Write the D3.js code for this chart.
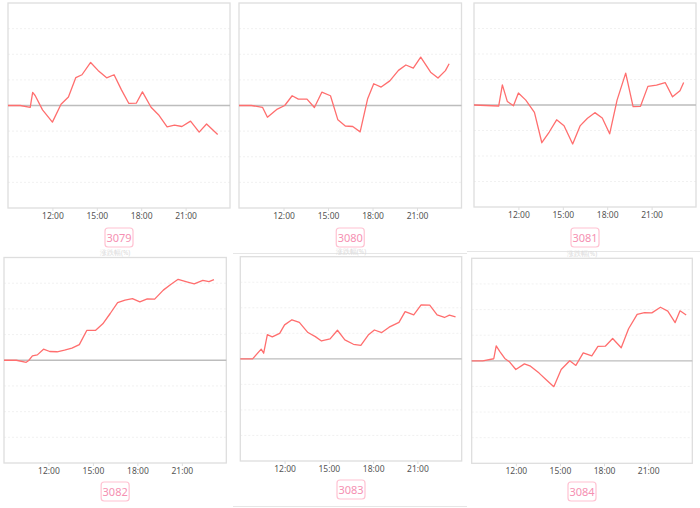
<!DOCTYPE html>
<html><head><meta charset="utf-8">
<script src="https://cdn.jsdelivr.net/npm/d3@7/dist/d3.min.js"></script>
<style>body{margin:0;background:#fff}svg{display:block;font-family:"Noto Sans","DejaVu Sans",sans-serif}</style>
</head><body><svg width="700" height="508"></svg>
<script>
const codes = ["3079","3080","3081","3082","3083","3084"];
const t3079 = ["09:00","09:50","10:30","10:40","10:50","11:20","12:00","12:35","13:05","13:35","14:00","14:35","15:05","15:40","16:10","16:40","17:10","17:40","18:05","18:40","19:10","19:45","20:15","20:45","21:20","21:55","22:25","23:10"];
const v3079 = [0,0,-0.07,0.51,0.39,-0.17,-0.65,0.05,0.33,1.09,1.2,1.68,1.37,1.08,1.2,0.61,0.08,0.09,0.53,-0.07,-0.36,-0.83,-0.77,-0.82,-0.61,-1.04,-0.72,-1.13];
const t3080 = ["09:00","09:50","10:35","10:55","11:35","12:05","12:35","13:00","13:35","14:05","14:35","15:10","15:40","16:10","16:40","17:10","17:40","18:05","18:35","19:10","19:45","20:15","20:45","21:15","21:55","22:25","22:55","23:10"];
const v3080 = [0,0,-0.07,-0.46,-0.14,0,0.38,0.25,0.25,-0.08,0.52,0.38,-0.56,-0.8,-0.82,-1.03,0.25,0.85,0.72,0.96,1.37,1.58,1.46,1.89,1.3,1.07,1.36,1.63];
const t3081 = ["09:00","10:40","10:55","11:15","11:40","12:00","12:30","13:05","13:35","14:05","14:35","15:05","15:40","16:10","16:40","17:10","17:40","18:10","18:40","19:15","19:45","20:15","20:45","21:20","21:55","22:25","22:55","23:10"];
const v3081 = [0,-0.04,0.79,0.14,-0.03,0.47,0.19,-0.29,-1.48,-1.06,-0.58,-0.81,-1.53,-0.82,-0.52,-0.3,-0.51,-1.13,0.19,1.25,-0.06,-0.05,0.73,0.78,0.88,0.32,0.56,0.88];
const t3082 = ["09:00","09:50","10:30","10:40","10:55","11:15","11:40","12:05","12:35","13:05","13:35","14:05","14:35","15:10","15:40","16:10","16:40","17:10","17:40","18:10","18:40","19:10","19:45","20:15","20:45","21:20","21:50","22:25","22:50","23:10"];
const v3082 = [0,0,-0.08,-0.01,0.17,0.21,0.43,0.34,0.33,0.39,0.47,0.61,1.16,1.16,1.42,1.82,2.24,2.34,2.4,2.27,2.39,2.38,2.73,2.95,3.15,3.05,2.97,3.11,3.06,3.14];
const t3083 = ["09:00","09:50","10:25","10:35","10:50","11:10","11:40","12:00","12:30","13:00","13:35","14:05","14:30","15:05","15:35","16:05","16:40","17:10","17:40","18:05","18:35","19:05","19:45","20:10","20:45","21:15","21:50","22:20","22:50","23:10","23:35"];
const v3083 = [0,0,0.38,0.22,0.95,0.86,1.0,1.33,1.53,1.43,1.03,0.87,0.7,0.78,1.12,0.74,0.57,0.53,0.93,1.13,1.03,1.24,1.43,1.85,1.72,2.11,2.1,1.72,1.62,1.71,1.64];
const t3084 = ["09:00","09:45","10:30","10:40","10:55","11:15","11:35","12:00","12:35","13:00","13:35","14:05","14:35","15:05","15:40","16:05","16:35","17:10","17:35","18:05","18:35","19:10","19:40","20:15","20:45","21:15","21:50","22:20","22:50","23:10","23:35"];
const v3084 = [0,0,0.08,0.58,0.36,0.09,-0.05,-0.34,-0.12,-0.21,-0.48,-0.75,-1.01,-0.34,0,-0.18,0.31,0.19,0.56,0.57,0.87,0.51,1.25,1.81,1.88,1.87,2.09,1.94,1.49,1.95,1.79];
const times = [t3079,t3080,t3081,t3082,t3083,t3084];
const values = [v3079,v3080,v3081,v3082,v3083,v3084];
const tickHours = [12,15,18,21];
const gridLevels = [-3,-2,-1,1,2,3];
const xDomain = [9,24];
const yDomain = [-4,4];
const subTitle = "涨跌幅(%)";

// layout (frames of each small chart)
const frames = [
  {x0:8, x1:230, y0:3, y1:208},
  {x0:239, x1:461.5, y0:3, y1:208},
  {x0:474, x1:696, y0:3, y1:207},
  {x0:4, x1:226.3, y0:257.5, y1:463},
  {x0:240.3, x1:461.7, y0:256.7, y1:461},
  {x0:471.7, x1:692.3, y0:258.3, y1:463.3}
];
const labelY = [228,228,228,482,480,482];

const svg = d3.select("svg");
const parseH = s => { const [h,m] = s.split(":").map(Number); return h + m/60; };

// card separator lines
svg.append("line").attr("x1",233).attr("x2",467).attr("y1",253.5).attr("y2",253.5).attr("stroke","#e6e6e6").attr("stroke-width",1.2);
svg.append("line").attr("x1",233).attr("x2",467).attr("y1",506.5).attr("y2",506.5).attr("stroke","#e6e6e6").attr("stroke-width",1.2);
svg.append("line").attr("x1",467).attr("x2",700).attr("y1",251.5).attr("y2",251.5).attr("stroke","#e6e6e6").attr("stroke-width",1.2);

frames.forEach((f,i) => {
  const g = svg.append("g");
  const x = d3.scaleLinear().domain(xDomain).range([f.x0, f.x1]);
  const y = d3.scaleLinear().domain(yDomain).range([f.y1, f.y0]);
  const cx = (f.x0 + f.x1)/2;

  // faint sub-title (only the lower row shows it inside the page)
  if (f.y0 > 100) {
    g.append("text").attr("x",cx).attr("y",f.y0 - 2.5).attr("text-anchor","middle")
      .attr("font-size",6.5).attr("fill","#dadada").text(subTitle);
  }

  // grid lines
  g.selectAll("line.grid").data(gridLevels).join("line").attr("class","grid")
    .attr("x1",f.x0).attr("x2",f.x1).attr("y1",d=>y(d)).attr("y2",d=>y(d))
    .attr("stroke","#ededed").attr("stroke-width",0.8).attr("stroke-dasharray","2,2");

  // frame
  g.append("rect").attr("x",f.x0).attr("y",f.y0).attr("width",f.x1-f.x0).attr("height",f.y1-f.y0)
    .attr("fill","none").attr("stroke","#dedede").attr("stroke-width",1.3);

  // zero line
  g.append("line").attr("x1",f.x0).attr("x2",f.x1).attr("y1",y(0)).attr("y2",y(0))
    .attr("stroke","#bdbdbd").attr("stroke-width",1.3);

  // x axis
  const ax = g.append("g").attr("transform",`translate(0,${f.y1})`)
    .call(d3.axisBottom(x).tickValues(tickHours).tickFormat(d=>d+":00").tickSize(3).tickPadding(2));
  ax.select(".domain").remove();
  ax.selectAll(".tick line").attr("stroke","#dedede");
  ax.selectAll(".tick text").attr("font-size",8.5).attr("fill","#555").attr("font-family","\"Noto Sans\",sans-serif");

  // series line
  const pts = times[i].map((t,k)=>[parseH(t), values[i][k]]);
  g.append("path").datum(pts)
    .attr("d", d3.line().x(d=>x(d[0])).y(d=>y(d[1])))
    .attr("fill","none").attr("stroke","#ff6e6e").attr("stroke-width",1.3).attr("stroke-linejoin","round");

  // label box
  const bw = 28, bh = 19;
  g.append("rect").attr("x",cx-bw/2).attr("y",labelY[i]).attr("width",bw).attr("height",bh).attr("rx",3)
    .attr("fill","#fff").attr("stroke","#ffc2d2").attr("stroke-width",1.2);
  g.append("text").attr("x",cx).attr("y",labelY[i]+bh/2+4).attr("text-anchor","middle")
    .attr("font-size",11).attr("fill","#f590b2").text(codes[i]);
});
</script></body></html>
